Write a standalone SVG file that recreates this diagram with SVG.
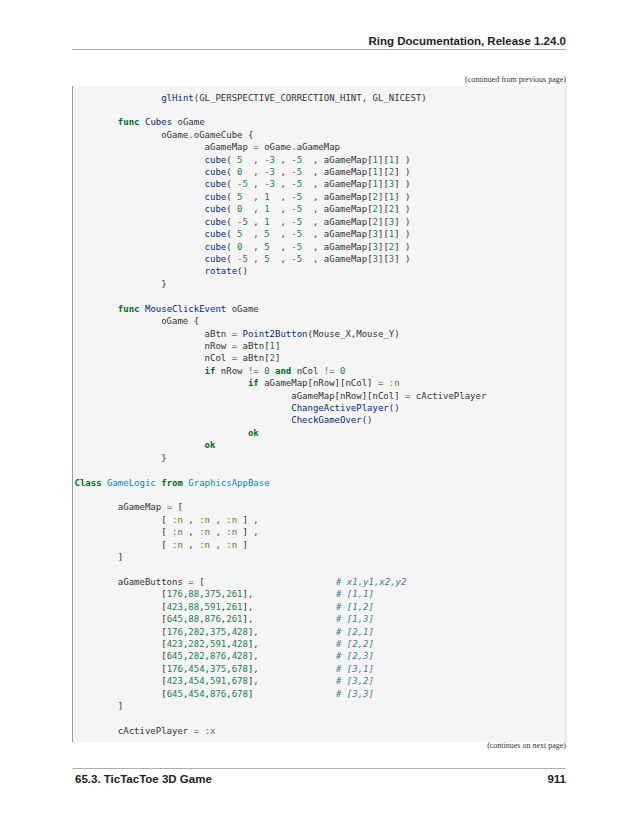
<svg xmlns="http://www.w3.org/2000/svg" width="638" height="825" viewBox="0 0 638 825" xml:space="preserve">
<style>
text{white-space:pre}
.hd{font-family:"Liberation Sans",Arial,sans-serif;font-weight:bold;fill:#222}
.sm{font-family:"Liberation Serif","Times New Roman",serif;font-size:8px;fill:#333}
.code text{font-family:"DejaVu Sans Mono",monospace;font-size:9px;fill:#333}
.k{fill:#007020;font-weight:bold}
.f{fill:#06287e}
.n{fill:#208050}
.s{fill:#517918}
.o{fill:#666666}
.cl{fill:#0e84b5}
.code text.c{fill:#408090;font-style:italic}
</style>
<rect width="638" height="825" fill="#fff"/>
<g id="header">
<text class="hd" x="566" y="45" font-size="11.5" text-anchor="end">Ring Documentation, Release 1.24.0</text>
<line x1="72" y1="49.5" x2="566" y2="49.5" stroke="#999" stroke-width="0.8"/>
<text class="sm" x="566" y="82" text-anchor="end">(continued from previous page)</text>
</g>
<g id="codebox">
<rect x="72" y="86" width="494" height="656" fill="#f5f5f5"/>
<line x1="72.5" y1="86" x2="72.5" y2="742" stroke="#999" stroke-width="1"/>
<line x1="566" y1="86" x2="566" y2="742" stroke="#ccc" stroke-width="0.8"/>
</g>
<g id="code" class="code">
<text x="74.5" y="100.5">                <tspan class="f">glHint</tspan>(GL_PERSPECTIVE_CORRECTION_HINT, GL_NICEST)</text>
<text x="74.5" y="125.3">        <tspan class="k">func</tspan> <tspan class="f">Cubes</tspan> oGame</text>
<text x="74.5" y="137.8">                oGame<tspan class="o">.</tspan>oGameCube {</text>
<text x="74.5" y="150.2">                        aGameMap <tspan class="o">=</tspan> oGame<tspan class="o">.</tspan>aGameMap</text>
<text x="74.5" y="162.6">                        <tspan class="f">cube</tspan>( <tspan class="n">5</tspan>  , <tspan class="o">-</tspan><tspan class="n">3</tspan> , <tspan class="o">-</tspan><tspan class="n">5</tspan>  , aGameMap[<tspan class="n">1</tspan>][<tspan class="n">1</tspan>] )</text>
<text x="74.5" y="175.0">                        <tspan class="f">cube</tspan>( <tspan class="n">0</tspan>  , <tspan class="o">-</tspan><tspan class="n">3</tspan> , <tspan class="o">-</tspan><tspan class="n">5</tspan>  , aGameMap[<tspan class="n">1</tspan>][<tspan class="n">2</tspan>] )</text>
<text x="74.5" y="187.4">                        <tspan class="f">cube</tspan>( <tspan class="o">-</tspan><tspan class="n">5</tspan> , <tspan class="o">-</tspan><tspan class="n">3</tspan> , <tspan class="o">-</tspan><tspan class="n">5</tspan>  , aGameMap[<tspan class="n">1</tspan>][<tspan class="n">3</tspan>] )</text>
<text x="74.5" y="199.9">                        <tspan class="f">cube</tspan>( <tspan class="n">5</tspan>  , <tspan class="n">1</tspan>  , <tspan class="o">-</tspan><tspan class="n">5</tspan>  , aGameMap[<tspan class="n">2</tspan>][<tspan class="n">1</tspan>] )</text>
<text x="74.5" y="212.3">                        <tspan class="f">cube</tspan>( <tspan class="n">0</tspan>  , <tspan class="n">1</tspan>  , <tspan class="o">-</tspan><tspan class="n">5</tspan>  , aGameMap[<tspan class="n">2</tspan>][<tspan class="n">2</tspan>] )</text>
<text x="74.5" y="224.7">                        <tspan class="f">cube</tspan>( <tspan class="o">-</tspan><tspan class="n">5</tspan> , <tspan class="n">1</tspan>  , <tspan class="o">-</tspan><tspan class="n">5</tspan>  , aGameMap[<tspan class="n">2</tspan>][<tspan class="n">3</tspan>] )</text>
<text x="74.5" y="237.1">                        <tspan class="f">cube</tspan>( <tspan class="n">5</tspan>  , <tspan class="n">5</tspan>  , <tspan class="o">-</tspan><tspan class="n">5</tspan>  , aGameMap[<tspan class="n">3</tspan>][<tspan class="n">1</tspan>] )</text>
<text x="74.5" y="249.5">                        <tspan class="f">cube</tspan>( <tspan class="n">0</tspan>  , <tspan class="n">5</tspan>  , <tspan class="o">-</tspan><tspan class="n">5</tspan>  , aGameMap[<tspan class="n">3</tspan>][<tspan class="n">2</tspan>] )</text>
<text x="74.5" y="261.9">                        <tspan class="f">cube</tspan>( <tspan class="o">-</tspan><tspan class="n">5</tspan> , <tspan class="n">5</tspan>  , <tspan class="o">-</tspan><tspan class="n">5</tspan>  , aGameMap[<tspan class="n">3</tspan>][<tspan class="n">3</tspan>] )</text>
<text x="74.5" y="274.4">                        <tspan class="f">rotate</tspan>()</text>
<text x="74.5" y="286.8">                }</text>
<text x="74.5" y="311.6">        <tspan class="k">func</tspan> <tspan class="f">MouseClickEvent</tspan> oGame</text>
<text x="74.5" y="324.1">                oGame {</text>
<text x="74.5" y="336.5">                        aBtn <tspan class="o">=</tspan> <tspan class="f">Point2Button</tspan>(Mouse_X,Mouse_Y)</text>
<text x="74.5" y="348.9">                        nRow <tspan class="o">=</tspan> aBtn[<tspan class="n">1</tspan>]</text>
<text x="74.5" y="361.3">                        nCol <tspan class="o">=</tspan> aBtn[<tspan class="n">2</tspan>]</text>
<text x="74.5" y="373.7">                        <tspan class="k">if</tspan> nRow <tspan class="o">!=</tspan> <tspan class="n">0</tspan> <tspan class="k">and</tspan> nCol <tspan class="o">!=</tspan> <tspan class="n">0</tspan></text>
<text x="74.5" y="386.2">                                <tspan class="k">if</tspan> aGameMap[nRow][nCol] <tspan class="o">=</tspan> <tspan class="s">:n</tspan></text>
<text x="74.5" y="398.6">                                        aGameMap[nRow][nCol] <tspan class="o">=</tspan> cActivePlayer</text>
<text x="74.5" y="411.0">                                        <tspan class="f">ChangeActivePlayer</tspan>()</text>
<text x="74.5" y="423.4">                                        <tspan class="f">CheckGameOver</tspan>()</text>
<text x="74.5" y="435.8">                                <tspan class="k">ok</tspan></text>
<text x="74.5" y="448.3">                        <tspan class="k">ok</tspan></text>
<text x="74.5" y="460.7">                }</text>
<text x="74.5" y="485.5"><tspan class="k">Class</tspan> <tspan class="cl">GameLogic</tspan> <tspan class="k">from</tspan> <tspan class="cl">GraphicsAppBase</tspan></text>
<text x="74.5" y="510.4">        aGameMap <tspan class="o">=</tspan> [</text>
<text x="74.5" y="522.8">                [ <tspan class="s">:n</tspan> , <tspan class="s">:n</tspan> , <tspan class="s">:n</tspan> ] ,</text>
<text x="74.5" y="535.2">                [ <tspan class="s">:n</tspan> , <tspan class="s">:n</tspan> , <tspan class="s">:n</tspan> ] ,</text>
<text x="74.5" y="547.6">                [ <tspan class="s">:n</tspan> , <tspan class="s">:n</tspan> , <tspan class="s">:n</tspan> ]</text>
<text x="74.5" y="560.0">        ]</text>
<text x="74.5" y="584.9">        aGameButtons <tspan class="o">=</tspan> [</text>
<text x="74.5" y="597.3">                [<tspan class="n">176</tspan>,<tspan class="n">88</tspan>,<tspan class="n">375</tspan>,<tspan class="n">261</tspan>],</text>
<text x="74.5" y="609.7">                [<tspan class="n">423</tspan>,<tspan class="n">88</tspan>,<tspan class="n">591</tspan>,<tspan class="n">261</tspan>],</text>
<text x="74.5" y="622.1">                [<tspan class="n">645</tspan>,<tspan class="n">88</tspan>,<tspan class="n">876</tspan>,<tspan class="n">261</tspan>],</text>
<text x="74.5" y="634.6">                [<tspan class="n">176</tspan>,<tspan class="n">282</tspan>,<tspan class="n">375</tspan>,<tspan class="n">428</tspan>],</text>
<text x="74.5" y="647.0">                [<tspan class="n">423</tspan>,<tspan class="n">282</tspan>,<tspan class="n">591</tspan>,<tspan class="n">428</tspan>],</text>
<text x="74.5" y="659.4">                [<tspan class="n">645</tspan>,<tspan class="n">282</tspan>,<tspan class="n">876</tspan>,<tspan class="n">428</tspan>],</text>
<text x="74.5" y="671.8">                [<tspan class="n">176</tspan>,<tspan class="n">454</tspan>,<tspan class="n">375</tspan>,<tspan class="n">678</tspan>],</text>
<text x="74.5" y="684.2">                [<tspan class="n">423</tspan>,<tspan class="n">454</tspan>,<tspan class="n">591</tspan>,<tspan class="n">678</tspan>],</text>
<text x="74.5" y="696.7">                [<tspan class="n">645</tspan>,<tspan class="n">454</tspan>,<tspan class="n">876</tspan>,<tspan class="n">678</tspan>]</text>
<text x="74.5" y="709.1">        ]</text>
<text x="74.5" y="733.9">        cActivePlayer <tspan class="o">=</tspan> <tspan class="s">:x</tspan></text>
<text class="c" x="336" y="584.9"># x1,y1,x2,y2</text>
<text class="c" x="336" y="597.3"># [1,1]</text>
<text class="c" x="336" y="609.7"># [1,2]</text>
<text class="c" x="336" y="622.1"># [1,3]</text>
<text class="c" x="336" y="634.6"># [2,1]</text>
<text class="c" x="336" y="647.0"># [2,2]</text>
<text class="c" x="336" y="659.4"># [2,3]</text>
<text class="c" x="336" y="671.8"># [3,1]</text>
<text class="c" x="336" y="684.2"># [3,2]</text>
<text class="c" x="336" y="696.7"># [3,3]</text>
</g>
<g id="footer">
<text class="sm" x="566" y="748" text-anchor="end">(continues on next page)</text>
<line x1="72" y1="768.5" x2="566" y2="768.5" stroke="#999" stroke-width="0.8"/>
<text class="hd" x="75" y="783" font-size="11.5">65.3. TicTacToe 3D Game</text>
<text class="hd" x="566" y="783" font-size="11.5" text-anchor="end">911</text>
</g>
</svg>
